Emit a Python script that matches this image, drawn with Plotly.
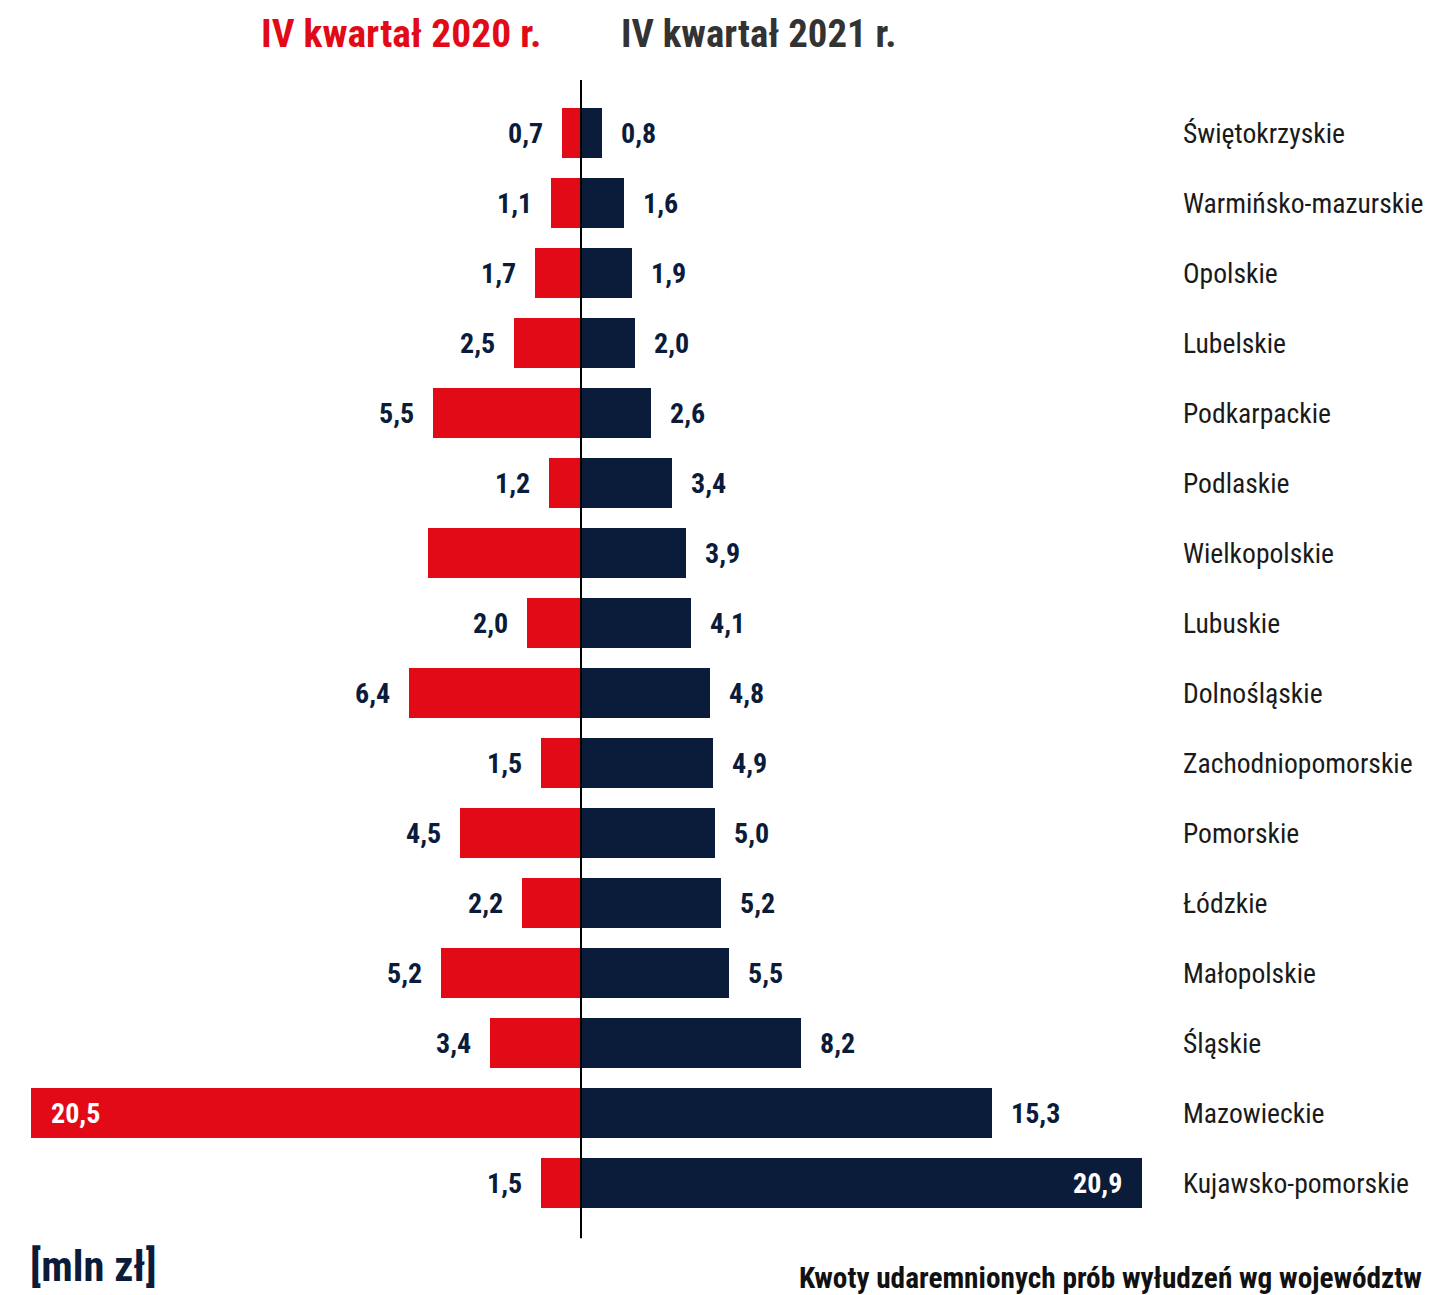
import plotly.graph_objects as go

categories = ["Świętokrzyskie", "Warmińsko-mazurskie", "Opolskie", "Lubelskie",
              "Podkarpackie", "Podlaskie", "Wielkopolskie", "Lubuskie",
              "Dolnośląskie", "Zachodniopomorskie", "Pomorskie", "Łódzkie",
              "Małopolskie", "Śląskie", "Mazowieckie", "Kujawsko-pomorskie"]
values_2020 = [0.7, 1.1, 1.7, 2.5, 5.5, 1.2, 5.7, 2.0, 6.4, 1.5, 4.5, 2.2, 5.2, 3.4, 20.5, 1.5]
values_2021 = [0.8, 1.6, 1.9, 2.0, 2.6, 3.4, 3.9, 4.1, 4.8, 4.9, 5.0, 5.2, 5.5, 8.2, 15.3, 20.9]
show_label_2020 = [True] * 6 + [False] + [True] * 9
series_titles = ["IV kwartał 2020 r.", "IV kwartał 2021 r."]
unit_label = "[mln zł]"
chart_caption = "Kwoty udaremnionych prób wyłudzeń wg województw"

RED = "#E20A16"
NAVY = "#0B1C3B"
FONT = "Noto Sans Condensed, Roboto Condensed, Open Sans Condensed, Roboto, sans-serif"

def fmt(v):
    return f"{v:.1f}".replace(".", ",")

W, H = 1429, 1295
fig = go.Figure()
fig.add_trace(go.Bar(y=categories, x=[-v for v in values_2020], orientation="h",
                     marker=dict(color=RED, line=dict(width=0)), width=0.715,
                     name=series_titles[0], hoverinfo="skip"))
fig.add_trace(go.Bar(y=categories, x=values_2021, orientation="h",
                     marker=dict(color=NAVY, line=dict(width=0)), width=0.715,
                     name=series_titles[1], hoverinfo="skip"))

LBL = 28
ann = []
for cat, v, show in zip(categories, values_2020, show_label_2020):
    if not show:
        continue
    if v >= 20:
        ann.append(dict(x=-v, y=cat, xref="x", yref="y", text=fmt(v), showarrow=False,
                        xanchor="left", xshift=18, font=dict(family=FONT, size=LBL, color="white", weight="bold")))
    else:
        ann.append(dict(x=-v, y=cat, xref="x", yref="y", text=fmt(v), showarrow=False,
                        xanchor="right", xshift=-17, font=dict(family=FONT, size=LBL, color=NAVY, weight="bold")))
for cat, v in zip(categories, values_2021):
    if v >= 20:
        ann.append(dict(x=v, y=cat, xref="x", yref="y", text=fmt(v), showarrow=False,
                        xanchor="right", xshift=-18, font=dict(family=FONT, size=LBL, color="white", weight="bold")))
    else:
        ann.append(dict(x=v, y=cat, xref="x", yref="y", text=fmt(v), showarrow=False,
                        xanchor="left", xshift=17, font=dict(family=FONT, size=LBL, color=NAVY, weight="bold")))
for cat in categories:
    ann.append(dict(x=1181 / W, y=cat, xref="paper", yref="y", text=cat, showarrow=False,
                    xanchor="left", font=dict(family=FONT, size=27.6, color="#1a1a1a")))

# titles
ann.append(dict(x=543 / W, y=1.058, xref="paper", yref="paper", text=series_titles[0], showarrow=False,
                xanchor="right", yanchor="middle", font=dict(family=FONT, size=39.5, color=RED, weight="bold")))
ann.append(dict(x=619 / W, y=1.058, xref="paper", yref="paper", text=series_titles[1], showarrow=False,
                xanchor="left", yanchor="middle", font=dict(family=FONT, size=38.8, color="#333333", weight="bold")))
ann.append(dict(x=28 / W, y=-0.0435, xref="paper", yref="paper", text=unit_label, showarrow=False,
                xanchor="left", yanchor="middle", font=dict(family=FONT, size=42.5, color=NAVY, weight="bold")))
ann.append(dict(x=1424 / W, y=-0.054, xref="paper", yref="paper", text=chart_caption, showarrow=False,
                xanchor="right", yanchor="middle", font=dict(family=FONT, size=29.3, color="#111111", weight="bold")))

px_per_unit = 26.85
x0 = 581
fig.update_layout(
    width=W, height=H,
    margin=dict(l=0, r=0, t=98, b=77),
    paper_bgcolor="white", plot_bgcolor="white",
    barmode="relative", bargap=0,
    showlegend=False,
    xaxis=dict(range=[-x0 / px_per_unit, (W - x0) / px_per_unit], showgrid=False, zeroline=False,
               showticklabels=False, fixedrange=True),
    yaxis=dict(autorange="reversed", showgrid=False, zeroline=False, showticklabels=False,
               fixedrange=True),
    annotations=ann,
    shapes=[dict(type="line", xref="x", yref="paper", x0=0, x1=0, y0=-0.018, y1=1.016,
                 line=dict(color="black", width=2))],
)
fig.write_html("out.html")
